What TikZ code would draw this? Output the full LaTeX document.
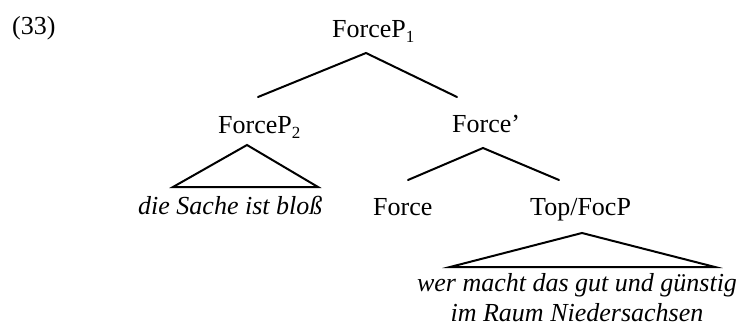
\documentclass[tikz,border=0pt]{standalone}
\usepackage{fontspec}
\setmainfont{Liberation Serif}
% lowered subscript index
\newcommand{\idx}[1]{\raisebox{-5pt}{\fontsize{17}{17}\selectfont #1}}
\begin{document}
\begin{tikzpicture}[x=1pt,y=-1pt,
  lbl/.style={inner sep=0pt,anchor=base west,font=\fontsize{26}{30}\selectfont},
  leaf/.style={lbl,font=\fontsize{26}{30}\selectfont\itshape},
  branch/.style={line width=2pt,line cap=round,line join=miter}]
  \useasboundingbox (0,0) rectangle (748,327);

  % example number and labels
  \node[lbl] (num) at (12,34) {(33)};
  \node[lbl] (fp1) at (332,37) {ForceP\idx{1}};
  \node[lbl] (fp2) at (218,133) {ForceP\idx{2}};
  \node[lbl] (fbar) at (452,132) {Force’};
  \node[lbl] (force) at (373,215) {Force};
  \node[lbl] (topfoc) at (530,215) {Top/FocP};
  \node[leaf] (sache) at (138,214) {die Sache ist bloß};
  \node[leaf,anchor=base,align=center] (wer) at (577,321)
    {wer macht das gut und günstig\\im Raum Niedersachsen};

  % branch points
  \coordinate (fp1-apex) at (366,53);
  \coordinate (fp1-l) at (258,97);
  \coordinate (fp1-r) at (457,97);
  \coordinate (fbar-apex) at (483,148);
  \coordinate (fbar-l) at (408,180);
  \coordinate (fbar-r) at (559,180);
  \coordinate (fp2-apex) at (247,145);
  \coordinate (fp2-bl) at (173,187);
  \coordinate (fp2-br) at (318,187);
  \coordinate (tf-apex) at (582,233);
  \coordinate (tf-bl) at (450,267);
  \coordinate (tf-br) at (715,267);

  % branches
  \draw[branch] (fp1-l) -- (fp1-apex) -- (fp1-r);
  \draw[branch] (fbar-l) -- (fbar-apex) -- (fbar-r);
  \draw[branch] (fp2-apex) -- (fp2-bl) -- (fp2-br) -- cycle;
  \draw[branch] (tf-apex) -- (tf-bl) -- (tf-br) -- cycle;
\end{tikzpicture}
\end{document}
